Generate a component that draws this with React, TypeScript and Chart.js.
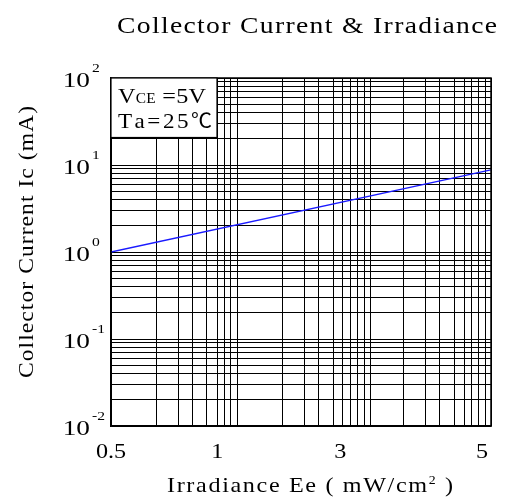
import React, { useEffect, useRef } from 'react';
import { Chart, registerables } from 'chart.js';

Chart.register(...registerables);

const TITLE = 'Collector Current & Irradiance';
const X_TITLE = 'Irradiance Ee ( mW/cm';
const X_TITLE_SUP = '2';
const X_TITLE_END = ' )';
const Y_TITLE = 'Collector Current Ic (mA)';
const NOTE_LINE2 = 'Ta=25';
const NOTE_UNIT = '℃';

// x tick labels (irradiance, mW/cm²) and where the printed log paper puts them (decades from left edge)
const X_TICK_LABELS = ['0.5', '1', '3', '5'];
const X_TICK_VALUES = [0.5, 1, 3, 5];
const X_TICK_PAPER = [0, 0.84, 1.81, 2.93];
// vertical rulings of the printed 3-cycle log paper (decades from left edge)
const X_GRID_PAPER = [
  0, 0.357, 0.53, 0.641, 0.757, 0.84, 0.893, 0.946, 1.0,
  1.356, 1.529, 1.642, 1.76, 1.831, 1.892, 1.944, 1.999, 2.046,
  2.309, 2.48, 2.595, 2.708, 2.787, 2.845, 2.903, 2.953, 3.0,
];
const Y_EXPONENTS = [-2, -1, 0, 1, 2];
const Y_MIN = 0.01;
const Y_MAX = 100;

// the curve: collector current (mA) vs irradiance (mW/cm²)
const IRRADIANCE = [0.5, 5.16];
const IC = [1.0, 8.8];

function irrToPaper(v: number): number {
  const n = X_TICK_VALUES.length;
  let i = 0;
  while (i < n - 2 && v > X_TICK_VALUES[i + 1]) i++;
  const a = Math.log10(X_TICK_VALUES[i]);
  const b = Math.log10(X_TICK_VALUES[i + 1]);
  const t = (Math.log10(v) - a) / (b - a);
  return X_TICK_PAPER[i] + t * (X_TICK_PAPER[i + 1] - X_TICK_PAPER[i]);
}

const FONT = '"Liberation Serif", "Times New Roman", serif';
const CJK_FONT = '"Noto Sans CJK JP", "Noto Sans CJK SC", "Liberation Serif", serif';

type Seg = { t: string; size: number; dy?: number; family?: string };

// draws a run of text segments, stretched horizontally and spread to a target width
function drawRun(
  ctx: CanvasRenderingContext2D,
  segs: Seg[],
  x: number,
  y: number,
  width: number | null,
  align: 'left' | 'center' | 'right',
  stretch = 1
) {
  const chars: { ch: string; font: string; dy: number; w: number }[] = [];
  let natural = 0;
  segs.forEach((s) => {
    const font = `${s.size}px ${s.family || FONT}`;
    ctx.font = font;
    Array.from(s.t).forEach((ch) => {
      const w = ctx.measureText(ch).width * stretch;
      natural += w;
      chars.push({ ch, font, dy: s.dy || 0, w });
    });
  });
  const total = width == null ? natural : width;
  const gaps = Math.max(1, chars.length - 1);
  const sp = chars.length > 1 ? (total - natural) / gaps : 0;
  let start = x;
  if (align === 'center') start = x - total / 2;
  if (align === 'right') start = x - total;
  ctx.save();
  ctx.textAlign = 'left';
  ctx.textBaseline = 'alphabetic';
  let cx = start;
  chars.forEach((c) => {
    ctx.font = c.font;
    ctx.save();
    ctx.translate(cx, y + c.dy);
    ctx.scale(stretch, 1);
    ctx.fillText(c.ch, 0, 0);
    ctx.restore();
    cx += c.w + sp;
  });
  ctx.restore();
}

export default function App() {
  const ref = useRef<HTMLCanvasElement | null>(null);
  useEffect(() => {
    if (!ref.current) return;
    const yTicks: number[] = [];
    for (let e = -2; e < 2; e++) {
      for (let k = 1; k < 10; k++) yTicks.push(k * Math.pow(10, e));
    }
    yTicks.push(100);

    const textPlugin = {
      id: 'texts',
      afterDraw(chart: any) {
        const ctx = chart.ctx as CanvasRenderingContext2D;
        const ca = chart.chartArea;
        const xs = chart.scales.x;
        const ys = chart.scales.y;
        ctx.save();
        // frame
        ctx.strokeStyle = '#000';
        ctx.lineWidth = 1.5;
        ctx.strokeRect(ca.left, ca.top, ca.right - ca.left, ca.bottom - ca.top);

        // note box
        const bx = ca.left;
        const by = ca.top;
        const bw = 106;
        const bh = 59.5;
        ctx.fillStyle = '#fff';
        ctx.fillRect(bx, by, bw, bh);
        ctx.lineWidth = 1.2;
        ctx.strokeRect(bx, by, bw, bh);
        ctx.fillStyle = '#000';
        drawRun(
          ctx,
          [
            { t: 'V', size: 22 },
            { t: 'CE', size: 14 },
            { t: ' =5V', size: 22 },
          ],
          bx + 7,
          by + 25,
          88,
          'left',
          1.1
        );
        drawRun(
          ctx,
          [
            { t: NOTE_LINE2, size: 22 },
            { t: NOTE_UNIT, size: 20, family: CJK_FONT },
          ],
          bx + 7,
          by + 50,
          94,
          'left',
          1.05
        );

        // title
        drawRun(ctx, [{ t: TITLE, size: 24 }], 307, 33, 380, 'center', 1.15);

        // x tick labels
        X_TICK_LABELS.forEach((lab, i) => {
          drawRun(ctx, [{ t: lab, size: 21 }], xs.getPixelForValue(X_TICK_PAPER[i]), ca.bottom + 32, null, 'center', 1.15);
        });

        // y tick labels 10^n
        Y_EXPONENTS.forEach((e) => {
          const py = ys.getPixelForValue(Math.pow(10, e));
          drawRun(ctx, [{ t: '10', size: 21 }], 90, py + 9, null, 'right', 1.3);
          drawRun(ctx, [{ t: String(e), size: 13 }], 92, py - 6, null, 'left', 1.2);
        });

        // x title
        drawRun(
          ctx,
          [
            { t: X_TITLE, size: 21 },
            { t: X_TITLE_SUP, size: 12, dy: -8 },
            { t: X_TITLE_END, size: 21 },
          ],
          310,
          492,
          286,
          'center',
          1.15
        );

        // y title
        ctx.save();
        ctx.translate(33, 242);
        ctx.rotate(-Math.PI / 2);
        drawRun(ctx, [{ t: Y_TITLE, size: 21 }], 0, 0, 272, 'center', 1.12);
        ctx.restore();
        ctx.restore();
      },
    };

    const chart = new Chart(ref.current, {
      type: 'line',
      data: {
        datasets: [
          {
            data: IRRADIANCE.map((v, i) => ({ x: irrToPaper(v), y: IC[i] })),
            borderColor: '#1a1aff',
            borderWidth: 1.3,
            pointRadius: 0,
            fill: false,
          },
        ],
      },
      options: {
        responsive: false,
        animation: false,
        devicePixelRatio: 1,
        layout: { padding: { left: 111, right: 22, top: 78, bottom: 78 } },
        plugins: { legend: { display: false }, title: { display: false }, tooltip: { enabled: false } },
        scales: {
          x: {
            type: 'linear',
            min: 0,
            max: 3,
            afterBuildTicks: (s: any) => {
              s.ticks = X_GRID_PAPER.map((v) => ({ value: v }));
            },
            grid: { color: '#000', lineWidth: 1, drawTicks: false },
            border: { display: true, color: '#000', width: 1.5 },
            ticks: { display: false },
          },
          y: {
            type: 'logarithmic',
            min: Y_MIN,
            max: Y_MAX,
            afterBuildTicks: (s: any) => {
              s.ticks = yTicks.map((v) => ({ value: v }));
            },
            grid: { color: '#000', lineWidth: 1, drawTicks: false },
            border: { display: true, color: '#000', width: 1.5 },
            ticks: { display: false },
          },
        },
      },
      plugins: [textPlugin],
    } as any);
    return () => chart.destroy();
  }, []);

  return (
    <div style={{ position: 'fixed', left: 0, top: 0, width: 513, height: 504, background: '#fff' }}>
      <canvas ref={ref} width={513} height={504} style={{ width: 513, height: 504, display: 'block' }} />
    </div>
  );
}
